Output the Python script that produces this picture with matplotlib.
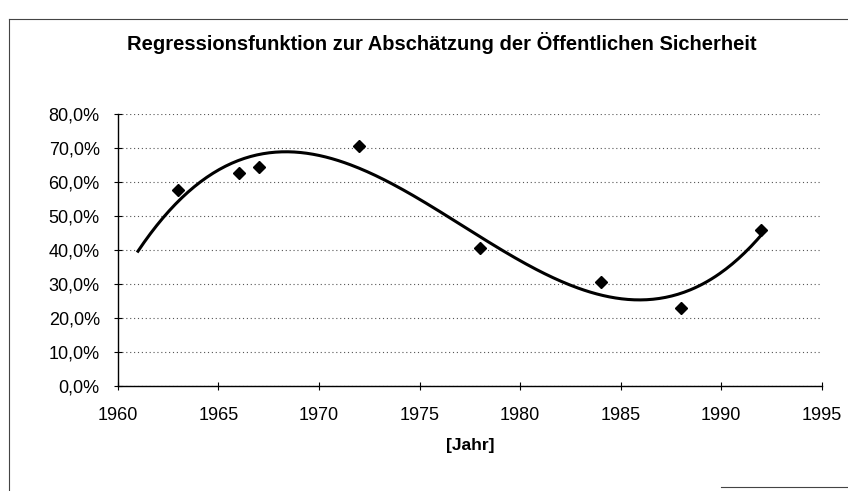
import numpy as np
import matplotlib
matplotlib.use('Agg')
from matplotlib import pyplot as plt
from matplotlib.lines import Line2D
from matplotlib.ticker import FuncFormatter

# Data
jahre = [1963, 1966, 1967, 1972, 1978, 1984, 1988, 1992]
sicherheit = [57.5, 62.5, 64.5, 70.5, 40.5, 30.5, 23.0, 46.0]
trend_start = 1961

plt.rcParams['font.family'] = ['Liberation Sans', 'DejaVu Sans']

fig = plt.figure(figsize=(8.48, 4.91), dpi=100)
ax = fig.add_axes([0.139, 0.214, 0.830, 0.554])

# cubic regression (Excel polynomial trendline, order 3, 2 periods backward)
coef = np.polyfit(jahre, sicherheit, 3)
xs = np.linspace(trend_start, max(jahre), 300)
ax.plot(xs, np.polyval(coef, xs), color='black', linewidth=2.2, zorder=3)

ax.plot(jahre, sicherheit, linestyle='none', marker='D', markersize=6.5,
        color='black', zorder=4)

ax.set_xlim(1960, 1995)
ax.set_ylim(0, 80)
ax.set_xticks(range(1960, 1996, 5))
ax.set_yticks(range(0, 81, 10))
ax.yaxis.set_major_formatter(FuncFormatter(lambda v, p: f'{v:.1f}%'.replace('.', ',')))

ax.grid(axis='y', linestyle=(0, (1, 2.5)), color='#555555', linewidth=0.8)
ax.set_axisbelow(True)
for s in ['top', 'right']:
    ax.spines[s].set_visible(False)
ax.spines['left'].set_linewidth(1.0)
ax.spines['bottom'].set_linewidth(1.0)
ax.tick_params(axis='both', direction='inout', length=6, width=0.8,
               labelsize=13, colors='black')
ax.tick_params(axis='y', pad=10)
ax.tick_params(axis='x', pad=12)

ax.set_xlabel('[Jahr]', fontsize=12.5, fontweight='bold', labelpad=10)
fig.text(0.521, 0.912, 'Regressionsfunktion zur Abschätzung der Öffentlichen Sicherheit',
         ha='center', va='center', fontsize=14.5, fontweight='bold')

# outer chart border (partly cut off in the scan)
fig.add_artist(Line2D([0.011, 1.0], [0.961, 0.961], color='#444444', linewidth=0.8))
fig.add_artist(Line2D([0.011, 0.011], [0.0, 0.961], color='#444444', linewidth=0.8))
fig.add_artist(Line2D([0.85, 1.0], [0.008, 0.008], color='#444444', linewidth=0.8))

plt.savefig('out.png', dpi=100)
